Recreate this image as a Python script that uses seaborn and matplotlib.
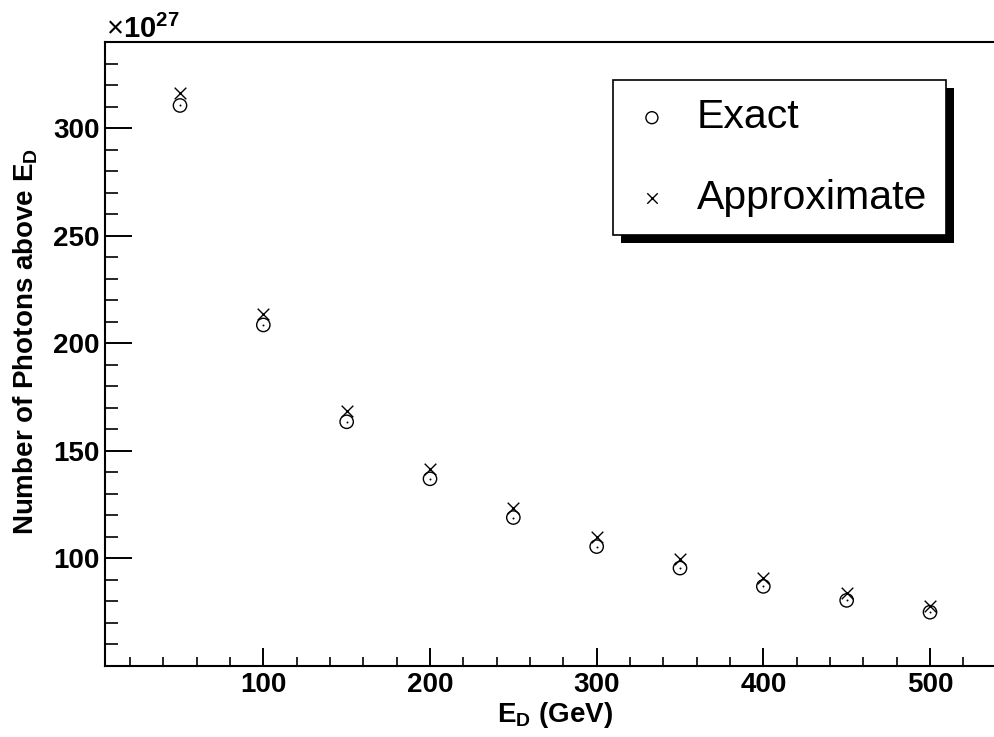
import numpy as np
import pandas as pd
import seaborn as sns
import matplotlib.pyplot as plt
from matplotlib.patches import Rectangle

# ---- data (values in units of 1e27) ----
energy = [50, 100, 150, 200, 250, 300, 350, 400, 450, 500]
exact = [310.5, 208.5, 163.5, 137.0, 119.0, 105.5, 95.5, 87.0, 80.5, 75.0]
approx = [316.5, 213.5, 168.5, 141.5, 123.5, 110.0, 99.5, 91.0, 84.0, 78.0]
series_labels = ["Exact", "Approximate"]
x_major = [100, 200, 300, 400, 500]
y_major = [100, 150, 200, 250, 300]
x_minor = list(range(20, 545, 20))
y_minor = list(range(50, 341, 10))
x_range = (5, 545)
y_range = (50, 340)

sns.set_theme(style="white")
plt.rcParams["font.family"] = ["Liberation Sans", "DejaVu Sans"]
plt.rcParams["mathtext.fontset"] = "custom"
plt.rcParams["mathtext.rm"] = "Liberation Sans"
plt.rcParams["mathtext.bf"] = "Liberation Sans:bold"
plt.rcParams["mathtext.it"] = "Liberation Sans:italic"
plt.rcParams["text.color"] = "black"
plt.rcParams["axes.labelcolor"] = "black"

W, H = 994, 737
fig = plt.figure(figsize=(W / 100, H / 100), dpi=100)
fig.patch.set_facecolor("white")
ax = fig.add_axes([105 / W, 1 - 666 / H, 900 / W, 624 / H])
ax.set_facecolor("white")

df = pd.DataFrame({"E": energy, "exact": exact, "approx": approx})

sns.scatterplot(data=df, x="E", y="exact", marker="o", s=92, color="black",
                facecolor="none", edgecolor="black", linewidth=1.0,
                ax=ax, label=series_labels[0], zorder=3)
sns.scatterplot(data=df, x="E", y="exact", marker="o", s=2, color="black",
                edgecolor="black", linewidth=0, ax=ax, legend=False, zorder=3)
sns.scatterplot(data=df, x="E", y="approx", marker="x", s=70, color="black",
                edgecolor="black", linewidth=1.0, ax=ax,
                label=series_labels[1], zorder=3)

ax.set_xlim(*x_range)
ax.set_ylim(*y_range)

ax.set_xticks(x_major, labels=[str(v) for v in x_major])
ax.set_yticks(y_major, labels=[str(v) for v in y_major])
ax.set_xticks(x_minor, minor=True)
ax.set_yticks(y_minor, minor=True)

ax.tick_params(axis="x", which="major", direction="in", length=13, width=1.4,
               pad=4, labelsize=20, colors="black", bottom=True, top=False)
ax.tick_params(axis="x", which="minor", direction="in", length=6.5, width=1.4,
               bottom=True, top=False)
ax.tick_params(axis="y", which="major", direction="in", length=19.4, width=1.4,
               pad=4, labelsize=20, colors="black", left=True, right=False)
ax.tick_params(axis="y", which="minor", direction="in", length=9.7, width=1.4,
               left=True, right=False)
for lbl in ax.get_xticklabels() + ax.get_yticklabels():
    lbl.set_fontweight("bold")

for side in ["left", "bottom", "top", "right"]:
    ax.spines[side].set_visible(True)
    ax.spines[side].set_color("black")
    ax.spines[side].set_linewidth(1.5)

ax.set_xlabel("$\\mathbf{E}_\\mathbf{D}$ (GeV)", fontsize=20, fontweight="bold",
              color="black")
ax.set_ylabel("Number of Photons above $\\mathbf{E}_\\mathbf{D}$", fontsize=20,
              fontweight="bold", color="black")
ax.xaxis.set_label_coords(0.5, -0.055)
ax.yaxis.set_label_coords(-0.072, 0.52)

fig.text(106 / W, 1 - 38 / H, "$\\times\\mathbf{10^{27}}$", fontsize=21,
         ha="left", va="baseline", color="black")

leg = ax.legend(loc="upper left", bbox_to_anchor=(613 / W, 1 - 80 / H),
                bbox_transform=fig.transFigure, fontsize=29.5, frameon=True,
                fancybox=False, edgecolor="black", framealpha=1,
                borderpad=0.45, handlelength=1.0, handletextpad=0.6,
                labelspacing=1.03, borderaxespad=0, markerscale=0.9)
leg.get_frame().set_linewidth(1.2)
leg.set_zorder(6)

fig.canvas.draw()
bb = leg.get_window_extent()
inv = fig.transFigure.inverted()
(x0, y0) = inv.transform((bb.x0 + 8, bb.y0 - 8))
(x1, y1) = inv.transform((bb.x1 + 8, bb.y1 - 8))
shadow = Rectangle((x0, y0), x1 - x0, y1 - y0, transform=fig.transFigure,
                   facecolor="black", edgecolor="none", zorder=5, clip_on=False)
ax.add_patch(shadow)

fig.savefig("out.png", dpi=100)
